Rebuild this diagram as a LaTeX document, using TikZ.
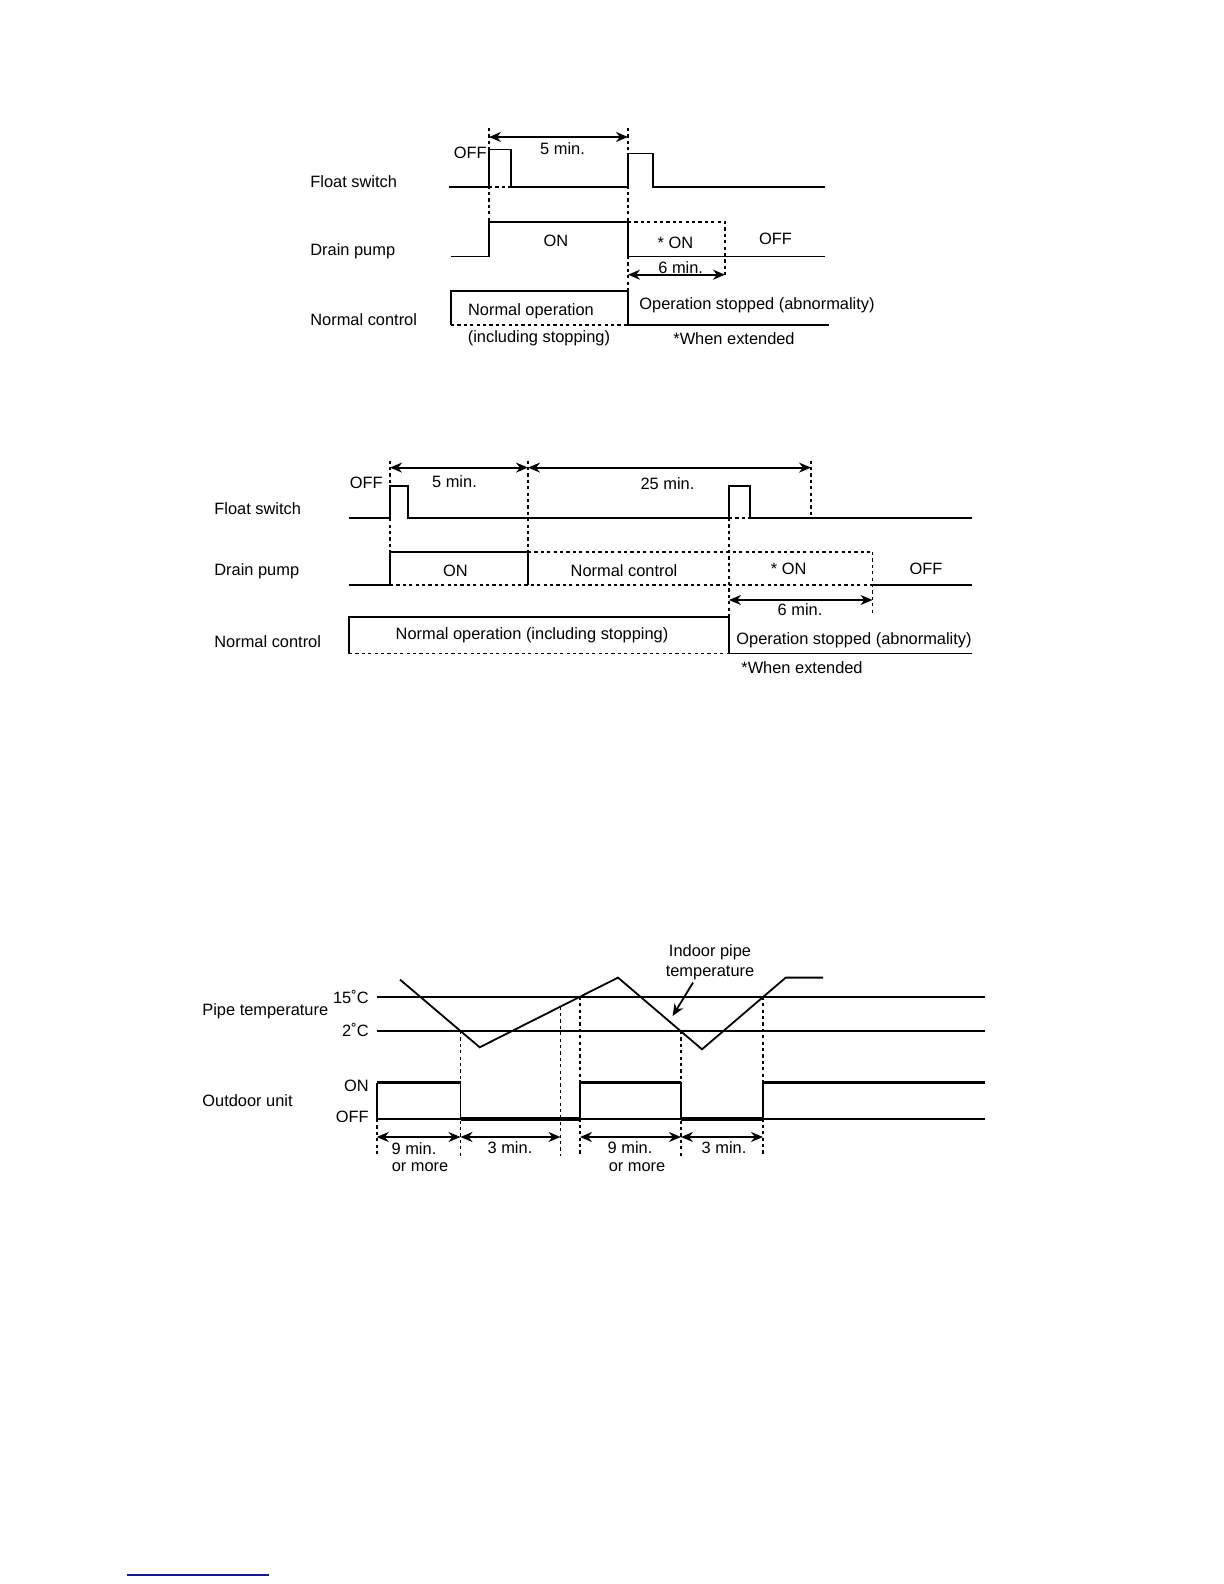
\documentclass[tikz,border=0pt]{standalone}
\usepackage{fontspec}
\setmainfont{Liberation Sans}
\usetikzlibrary{arrows.meta}
\definecolor{footblue}{RGB}{25,25,140}

\begin{document}
\begin{tikzpicture}[x=0.5pt,y=-0.5pt,line join=miter,
  every node/.style={font=\fontsize{8.2}{9.8}\selectfont,inner sep=0pt,yshift=-0.5pt},
  sig/.style={line width=0.9pt},
  heavy/.style={line width=1.8pt},
  dsh/.style={line width=0.9pt,dash pattern=on 1.6pt off 1.6pt},
  span/.style={line width=0.9pt,{Stealth[length=6pt,width=5pt]}-{Stealth[length=6pt,width=5pt]}}]
  \useasboundingbox (0,0) rectangle (1224,1584);
  % first chart
  \draw[sig] (449,187) -| (489,149.5) -| (511,187) -- (628,187) |- (653,153.5) |- (825,187);
  \draw[dsh] (489,187) -- (511,187) (489,128) -- (489,222) (628,128) -- (628,325);
  \draw[span] (489,137) -- (628,137);
  \draw[sig] (451,256.5) -- (489,256.5) |- (628,222) -- (628,256.5) -- (825,256.5);
  \draw[dsh] (628,222) -| (725,278);
  \draw[span] (628,274.7) -- (725,274.7);
  \draw[sig] (451,325) |- (628,291) -- (628,325) -- (829,325);
  \draw[dsh] (451,325) -- (628,325);
  \node[anchor=west] (fsA) at (310,181) {Float switch};
  \node[anchor=west] (dpA) at (310,250) {Drain pump};
  \node[anchor=west] (ncA) at (310,319) {Normal control};
  \node[anchor=east] (offA) at (487,152) {OFF};
  \node (fiveA) at (562.5,147.5) {5 min.};
  \node (onA) at (556,239.5) {ON};
  \node (xonA) at (675.5,242) {* ON};
  \node (offB) at (775.6,238) {OFF};
  \node (sixA) at (680.7,266.6) {6 min.};
  \node (opA) at (531,310) {Normal operation};
  \node (incA) at (539,337) {(including stopping)};
  \node (stopA) at (757,304) {Operation stopped (abnormality)};
  \node (extA) at (734,338) {*When extended};
  % second chart
  \draw[sig] (349,518) -| (390,486) -| (408,518) -- (729,518) |- (750,486) |- (971.5,518);
  \draw[dsh] (729,518) -- (750,518);
  \draw[dsh] (390,460.5) -- (390,585) (528,460.5) -- (528,585) (811,460.5) -- (811,518)
             (729,518) -- (729,653.5) (872.5,552) -- (872.5,613);
  \draw[span] (390,467.6) -- (528,467.6);
  \draw[span] (528,467.6) -- (811,467.6);
  \draw[sig] (349,585) -- (390,585) |- (528,552) -- (528,585) (872.5,585) -- (971.5,585);
  \draw[dsh] (390,585) -- (872.5,585) (528,552) -- (872.5,552);
  \draw[span] (729,600) -- (872.5,600);
  \draw[sig] (349,653.5) |- (729,617) -- (729,653.5) -- (971.5,653.5);
  \draw[dsh] (349,653.5) -- (729,653.5);
  \node[anchor=west] (fsB) at (214,508) {Float switch};
  \node[anchor=west] (dpB) at (214,570.6) {Drain pump};
  \node[anchor=west] (ncB) at (214,641) {Normal control};
  \node[anchor=east] (offC) at (383,481.7) {OFF};
  \node (fiveB) at (454.5,480.7) {5 min.};
  \node (twfB) at (667.5,482.7) {25 min.};
  \node (onB) at (455.5,569.6) {ON};
  \node (nctB) at (624,569.6) {Normal control};
  \node (xonB) at (788.7,567.6) {* ON};
  \node (offD) at (926,567.6) {OFF};
  \node (sixB) at (800,609) {6 min.};
  \node (opB) at (532,634) {Normal operation (including stopping)};
  \node (stopB) at (854,639) {Operation stopped (abnormality)};
  \node (extB) at (802,666.5) {*When extended};
  % third chart
  \draw[sig] (376.7,996.8) -- (984.6,996.8) (376.7,1031) -- (984.6,1031) (376.7,1119) -- (984.6,1119);
  \draw[sig] (400,979.6) -- (479.7,1047.3) -- (618,977.6) -- (702,1049.3) -- (785.7,977.6) -- (823,977.6);
  \draw[sig] (376.7,1119) -- (376.7,1082.6) (460.5,1082.6) -- (460.5,1119) (580,1119) -- (580,1082.6)
             (681,1082.6) -- (681,1119) (763,1119) -- (763,1082.6);
  \draw[heavy] (376.7,1082.6) -- (460.5,1082.6) (460.5,1119) -- (580,1119) (580,1082.6) -- (681,1082.6)
               (681,1119) -- (763,1119) (763,1082.6) -- (984.6,1082.6);
  \draw[dsh] (376.7,1119) -- (376.7,1156) (460.5,1031) -- (460.5,1156) (560.5,1006.6) -- (560.5,1156)
             (580,996.8) -- (580,1156) (681,1031) -- (681,1156) (763,996.8) -- (763,1156);
  \draw[span] (376.7,1137) -- (460.5,1137);
  \draw[span] (460.5,1137) -- (560.5,1137);
  \draw[span] (580,1137) -- (681,1137);
  \draw[span] (681,1137) -- (763,1137);
  \draw[sig,-{Stealth[length=6pt,width=5pt]}] (693,982.6) -- (672.6,1016);
  \node[anchor=west] (ptC) at (202,1010) {Pipe temperature};
  \node[anchor=west] (ouC) at (202,1100) {Outdoor unit};
  \node[anchor=east] (hiC) at (369,995.8) {15˚C};
  \node[anchor=east] (loC) at (369,1029) {2˚C};
  \node[anchor=east] (onC) at (369,1084.6) {ON};
  \node[anchor=east] (offE) at (369,1116) {OFF};
  \node (nineC) at (414,1148) {9 min.};
  \node (moreC) at (420,1166.5) {or more};
  \node (thrC) at (510,1147) {3 min.};
  \node (nineD) at (630,1147) {9 min.};
  \node (moreD) at (637,1166.5) {or more};
  \node (thrD) at (724,1147) {3 min.};
  \node[align=center] (ipC) at (710,961) {Indoor pipe\\temperature};
  % footnote rule
  \draw[footblue,line width=1pt] (127,1575) -- (269,1575);
\end{tikzpicture}
\end{document}
